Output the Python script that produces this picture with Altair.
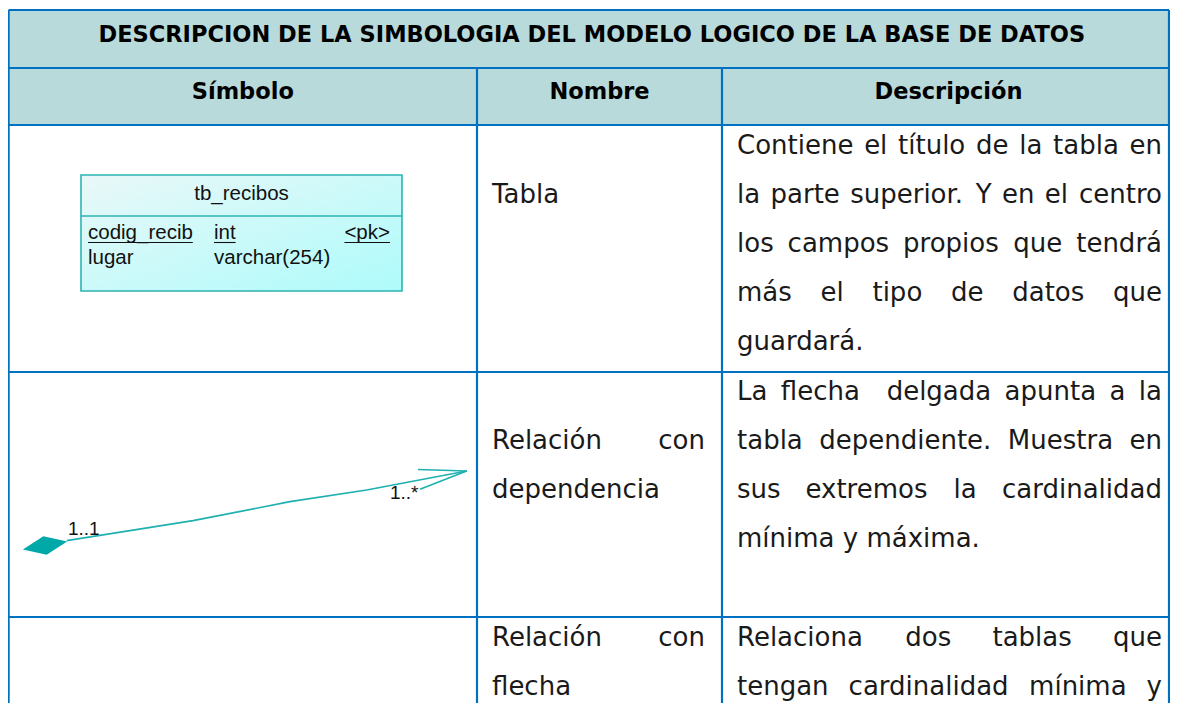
import altair as alt
import pandas as pd

# ---------------- content ----------------
TITLE = "DESCRIPCION DE LA SIMBOLOGIA DEL MODELO LOGICO DE LA BASE DE DATOS"
HEADERS = ["Símbolo", "Nombre", "Descripción"]
NAMES = [["Tabla"], ["Relación con", "dependencia"], ["Relación con", "flecha"]]
NAME_LINE_START = [1, 1, 0]          # line index where the name starts in each row
DESCRIPTIONS = [
    ["Contiene el título de la tabla en", "la parte superior. Y en el centro",
     "los campos propios que tendrá", "más el tipo de datos que", "guardará."],
    ["La flecha  delgada apunta a la", "tabla dependiente. Muestra en",
     "sus extremos la cardinalidad", "mínima y máxima."],
    ["Relaciona dos tablas que", "tengan cardinalidad mínima y"],
]
DESC_LAST_IS_END = [True, True, False]   # paragraph ends inside the row (last line not justified)

ER_TABLE_NAME = "tb_recibos"
ER_FIELDS = ["codig_recib", "lugar"]
ER_TYPES = ["int", "varchar(254)"]
ER_KEYS = ["<pk>", ""]
ER_UNDERLINED = [True, False]
CARDINALITY = ["1..1", "1..*"]

# relation line (pixel coordinates of the picture)
REL_X = [66.7, 193, 290, 366.7, 466.7]
REL_Y = [540.7, 520.7, 501.7, 490, 471]
ARROW_TIP = (466.7, 471)
ARROW_BARBS_X = [418, 420]
ARROW_BARBS_Y = [469.5, 489.3]
DIAMOND = (45, 545.5)

# ---------------- layout ----------------
VIEW_X = [8, 1170]
VIEW_Y = [8, 703]
TBL_L, TBL_R, TBL_T, TBL_B = 8.6, 1169, 10, 703
ROW_LINES = [10, 68, 125, 372, 617]
COL_LINES = [477, 722]
TITLE_BASE, HEADER_BASE = 41.7, 98.7
ROW_FIRST_BASE = [154, 400, 646]
LINE_H = 49
NAME_L, NAME_R = 492, 705
DESC_L, DESC_R = 737, 1162
BODY_SIZE = 26
BOLD_SIZE = 22.5
BODY_FONT = "DejaVu Sans"
ER_FONT = "Liberation Sans"
ER_SIZE = 20.5
BOX = (81, 402, 175, 291)
BOX_DIV = 216

BLUE = "#0070C0"
HEAD_FILL = "#B9DADB"
TEAL = "#1FB0B0"

# DejaVu Sans advance widths (em)
DV = {" ": .3179, ".": .3179, "a": .6128, "b": .6348, "c": .5498, "d": .6348, "e": .6152,
      "f": .3521, "g": .6348, "h": .6338, "i": .2778, "j": .2778, "k": .5791, "l": .2778,
      "m": .9741, "n": .6338, "o": .6118, "p": .6348, "q": .6348, "r": .4111, "s": .5210,
      "t": .3921, "u": .6338, "v": .5918, "w": .8179, "x": .5918, "y": .5918, "z": .5249,
      "á": .6128, "é": .6152, "í": .2778, "ó": .6118, "ú": .6338,
      "C": .6982, "L": .5571, "M": .8628, "R": .6948, "T": .6108, "Y": .6108}
# Liberation Sans (Arial metrics)
AR = {"c": .5, "o": .556, "d": .556, "i": .222, "g": .556, "_": .556, "r": .333, "e": .556,
      "b": .556, "n": .556, "t": .278, "<": .584, "p": .556, "k": .5, ">": .584}


def tw(s, table, size):
    return sum(table.get(ch, 0.6) for ch in s) * size


def layout_line(line, left, right, base, justify):
    out = []
    if not justify:
        out.append(dict(x=left, y=base, t=line, a="left"))
        return out
    tokens = line.split(" ")
    words, gaps, spaces = [], [], 0
    for tok in tokens:
        if tok == "":
            spaces += 1
            continue
        if words:
            gaps.append(spaces)
        words.append(tok)
        spaces = 1
    widths = [tw(w, DV, BODY_SIZE) for w in words]
    sp = (right - left - sum(widths)) / max(sum(gaps), 1)
    x = left
    for i, w in enumerate(words):
        if i == len(words) - 1 and len(words) > 1:
            out.append(dict(x=right, y=base, t=w, a="right"))
        else:
            out.append(dict(x=x, y=base, t=w, a="left"))
            x += widths[i] + gaps[i] * sp
    return out


body = []
for r, lines in enumerate(DESCRIPTIONS):
    for i, line in enumerate(lines):
        last = i == len(lines) - 1
        body += layout_line(line, DESC_L, DESC_R, ROW_FIRST_BASE[r] + i * LINE_H,
                            not (last and DESC_LAST_IS_END[r]))
for r, lines in enumerate(NAMES):
    for i, line in enumerate(lines):
        last = i == len(lines) - 1
        body += layout_line(line, NAME_L, NAME_R,
                            ROW_FIRST_BASE[r] + (NAME_LINE_START[r] + i) * LINE_H, not last)
body_df = pd.DataFrame(body)

# table grid
rules = []
for y in ROW_LINES:
    rules.append(dict(x=TBL_L, x2=TBL_R, y=y, y2=y))
for x in [TBL_L, TBL_R]:
    rules.append(dict(x=x, x2=x, y=TBL_T, y2=TBL_B))
for x in COL_LINES:
    rules.append(dict(x=x, x2=x, y=ROW_LINES[1], y2=TBL_B))
rules_df = pd.DataFrame(rules)

head_df = pd.DataFrame([dict(x=TBL_L, x2=TBL_R, y=ROW_LINES[0], y2=ROW_LINES[2])])
bold_df = pd.DataFrame(
    [dict(x=(TBL_L + 1175) / 2, y=TITLE_BASE, t=TITLE)] +
    [dict(x=(a + b) / 2, y=HEADER_BASE, t=h)
     for h, a, b in zip(HEADERS, [TBL_L] + COL_LINES, COL_LINES + [1175])])

X = alt.X("x:Q", scale=alt.Scale(domain=VIEW_X, nice=False, zero=False), axis=None)
Y = alt.Y("y:Q", scale=alt.Scale(domain=VIEW_Y, nice=False, zero=False, reverse=True), axis=None)

header_fill = alt.Chart(head_df).mark_rect(color=HEAD_FILL).encode(X, x2="x2:Q", y=Y, y2="y2:Q")
grid = alt.Chart(rules_df).mark_rule(color=BLUE, strokeWidth=2.2).encode(X, x2="x2:Q", y=Y, y2="y2:Q")
bold_text = alt.Chart(bold_df).mark_text(font=BODY_FONT, fontWeight="bold", fontSize=BOLD_SIZE,
                                         align="center", baseline="alphabetic", color="#000000"
                                         ).encode(X, Y, text="t:N")
body_left = alt.Chart(body_df[body_df.a == "left"]).mark_text(
    font=BODY_FONT, fontSize=BODY_SIZE, align="left", baseline="alphabetic", color="#1a1a1a"
).encode(X, Y, text="t:N")
body_right = alt.Chart(body_df[body_df.a == "right"]).mark_text(
    font=BODY_FONT, fontSize=BODY_SIZE, align="right", baseline="alphabetic", color="#1a1a1a"
).encode(X, Y, text="t:N")

# ---------- ER table symbol ----------
bx0, bx1, by0, by1 = BOX
box_df = pd.DataFrame([dict(x=bx0, x2=bx1, y=by0, y2=by1)])
grad = alt.LinearGradient(gradient="linear",
                          stops=[alt.GradientStop(color="#EAF8F8", offset=0),
                                 alt.GradientStop(color="#AEFBFB", offset=1)],
                          x1=0, y1=0, x2=1, y2=1)
box = alt.Chart(box_df).mark_rect(fill=grad, stroke="#2DB3B3", strokeWidth=1.6).encode(
    X, x2="x2:Q", y=Y, y2="y2:Q")
div_df = pd.DataFrame([dict(x=bx0, x2=bx1, y=BOX_DIV, y2=BOX_DIV)])
box_div = alt.Chart(div_df).mark_rule(color="#2DB3B3", strokeWidth=1.6).encode(X, x2="x2:Q", y=Y, y2="y2:Q")

col_name_x, col_type_x, col_key_r = 88, 214, 390
er_rows = [dict(x=(bx0 + bx1) / 2, y=200, t=ER_TABLE_NAME, a="center")]
underl = []
for i, (f, ty, k, u) in enumerate(zip(ER_FIELDS, ER_TYPES, ER_KEYS, ER_UNDERLINED)):
    yb = 239 + i * 25
    er_rows.append(dict(x=col_name_x, y=yb, t=f, a="left"))
    er_rows.append(dict(x=col_type_x, y=yb, t=ty, a="left"))
    if k:
        er_rows.append(dict(x=col_key_r, y=yb, t=k, a="right"))
    if u:
        underl.append(dict(x=col_name_x, x2=col_name_x + tw(f, AR, ER_SIZE), y=yb + 3.5, y2=yb + 3.5))
        underl.append(dict(x=col_type_x, x2=col_type_x + tw(ty, AR, ER_SIZE), y=yb + 3.5, y2=yb + 3.5))
        if k:
            underl.append(dict(x=col_key_r - tw(k, AR, ER_SIZE), x2=col_key_r, y=yb + 3.5, y2=yb + 3.5))
er_df = pd.DataFrame(er_rows)
er_layers = []
for al in ["left", "center", "right"]:
    er_layers.append(alt.Chart(er_df[er_df.a == al]).mark_text(
        font=ER_FONT, fontSize=ER_SIZE, align=al, baseline="alphabetic", color="#111111"
    ).encode(X, Y, text="t:N"))
ul = alt.Chart(pd.DataFrame(underl)).mark_rule(color="#111111", strokeWidth=1.1).encode(
    X, x2="x2:Q", y=Y, y2="y2:Q")

# ---------- relation symbol ----------
rel_df = pd.DataFrame(dict(x=REL_X, y=REL_Y, o=list(range(len(REL_X)))))
rel = alt.Chart(rel_df).mark_line(color=TEAL, strokeWidth=1.7).encode(X, Y, order="o:Q")
barbs_df = pd.DataFrame(dict(x=ARROW_BARBS_X, y=ARROW_BARBS_Y,
                             x2=[ARROW_TIP[0]] * 2, y2=[ARROW_TIP[1]] * 2))
barbs = alt.Chart(barbs_df).mark_rule(color=TEAL, strokeWidth=1.7).encode(X, Y, x2="x2:Q", y2="y2:Q")
dia_df = pd.DataFrame([dict(x=DIAMOND[0], y=DIAMOND[1])])
dia = alt.Chart(dia_df).mark_point(shape="M -1 0 L 0 -0.42 L 1 0 L 0 0.42 Z", size=45 * 45,
                                   angle=350, filled=True, color="#00A8A8", opacity=1,
                                   strokeWidth=0).encode(X, Y)
card_df = pd.DataFrame(dict(x=[68, 390], y=[535, 499], t=CARDINALITY))
card = alt.Chart(card_df).mark_text(font=ER_FONT, fontSize=19, align="left", baseline="alphabetic",
                                    color="#111111").encode(X, Y, text="t:N")

chart = alt.layer(header_fill, box, box_div, ul, *er_layers, rel, barbs, dia, card,
                  grid, bold_text, body_left, body_right).properties(
    width=VIEW_X[1] - VIEW_X[0], height=VIEW_Y[1] - VIEW_Y[0], padding=0,
    autosize=alt.AutoSizeParams(type="none"), background="#ffffff"
).configure_view(stroke=None)

chart.save("out.html", embed_options={"renderer": "svg", "actions": False})
